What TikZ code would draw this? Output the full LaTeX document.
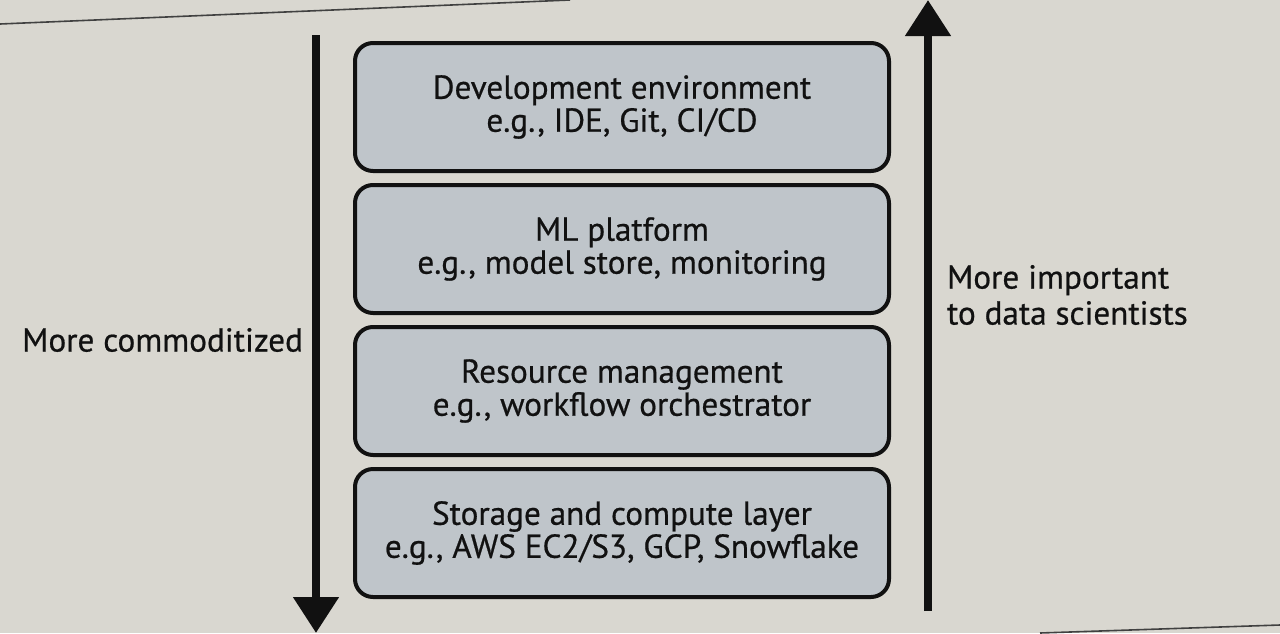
\documentclass[tikz,border=0pt]{standalone}
\usepackage{fontspec}
\setmainfont[FakeBold=0.6]{PT Sans}
\usepackage{tikz}
\usetikzlibrary{positioning}
\usetikzlibrary{arrows.meta}
\usepackage{xcolor}
\definecolor{paper}{HTML}{D9D7D0}
\definecolor{layerfill}{HTML}{BFC5CA}
\definecolor{ink}{HTML}{111111}

\begin{document}
\begin{tikzpicture}[x=0.5pt, y=-0.5pt, node distance=5pt,
  layer/.style={draw=ink, fill=layerfill, line width=2pt, rounded corners=9pt,
    minimum width=267pt, minimum height=64pt, align=center, text=ink,
    font=\fontsize{16.6}{16.5}\selectfont},
  side/.style={align=left, text=ink, font=\fontsize{16.6}{18}\selectfont},
  bigarrow/.style={draw=ink, line width=4pt,
    -{Triangle[length=18pt, width=22pt]}}]
  \fill[paper] (0,0) rectangle (1280,633);
  \useasboundingbox (0,0) rectangle (1280,633);
  % page edges
  \draw[ink!80, line width=0.8pt] (0,24) -- (570,0);
  \draw[ink!80, line width=0.8pt] (1040,633) -- (1280,625);
  % layers
  \node (devenv) [layer] at (622,107) {Development environment\\e.g., IDE, Git, CI/CD};
  \node (mlplat) [layer, below=of devenv] {ML platform\\e.g., model store, monitoring};
  \node (resmgmt) [layer, below=of mlplat] {Resource management\\e.g., workflow orchestrator};
  \node (storage) [layer, below=of resmgmt] {Storage and compute layer\\e.g., AWS EC2/S3, GCP, Snowflake};
  % arrows
  \coordinate (ltop) at (316,35);
  \coordinate (lbot) at (316,633);
  \coordinate (rbot) at (928,611);
  \coordinate (rtop) at (928,0);
  \draw[bigarrow] (ltop) -- (lbot);
  \draw[bigarrow] (rbot) -- (rtop);
  \node (commod) [side, anchor=east] at (310,340) {More commoditized};
  \node (important) [side, anchor=west] at (940,295) {More important\\to data scientists};
\end{tikzpicture}
\end{document}
